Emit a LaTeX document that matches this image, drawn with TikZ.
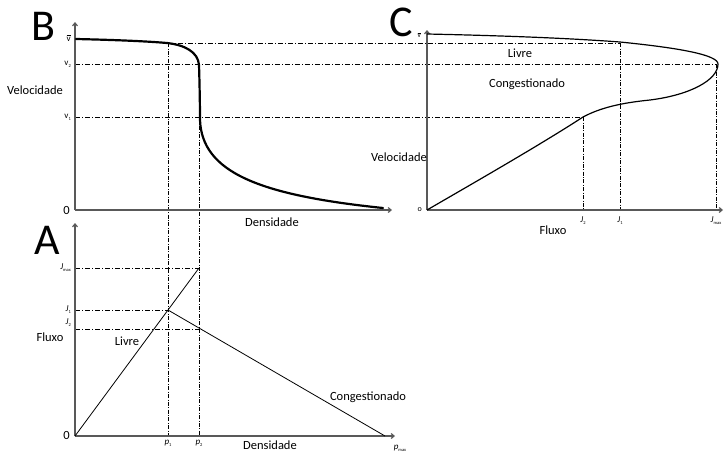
\documentclass[tikz,border=0pt]{standalone}
\usepackage{fontspec}
\setmainfont{Carlito}
\usetikzlibrary{arrows.meta}
\newcommand{\sublab}[2]{\textit{#1}\raisebox{-0.5ex}{\fontsize{4.5}{4.5}\selectfont #2}}
\newcommand{\vsub}[1]{v\raisebox{-0.5ex}{\fontsize{4.5}{4.5}\selectfont #1}}
\newcommand{\vbar}{$\overline{\mbox{v}}$}
\begin{document}
\begin{tikzpicture}[x=1pt,y=-1pt,
  axis/.style={draw=black!65,line width=1.2pt,-{Straight Barb[length=3pt,width=5pt]}},
  guideh/.style={draw=black,line width=0.5pt,dash pattern=on 5pt off 2pt on 1pt off 2pt},
  guidev/.style={draw=black,line width=0.5pt,dash pattern=on 4pt off 1.5pt on 0.8pt off 1.5pt},
  txt/.style={font=\fontsize{12.5}{14}\selectfont,inner sep=0pt},
  tick/.style={font=\fontsize{9}{10}\selectfont,inner sep=0pt},
  big/.style={font=\fontsize{44}{45}\selectfont,inner sep=0pt}]
\useasboundingbox (0,0) rectangle (727,451);

% ---------- coordinates ----------
\coordinate (Bo) at (75,210);
\coordinate (Byt) at (75,22);
\coordinate (Bxt) at (392,210);
\coordinate (Ao) at (75,436);
\coordinate (Ayt) at (75,223);
\coordinate (Axt) at (395,436);
\coordinate (Co) at (427,210);
\coordinate (Cyt) at (427,30);
\coordinate (Cxt) at (723,210);

\coordinate (h1a) at (168,43);  \coordinate (h1b) at (620,43);
\coordinate (h2a) at (75,64);   \coordinate (h2b) at (716,64);
\coordinate (h3a) at (75,117);  \coordinate (h3b) at (583,117);
\coordinate (p1t) at (168,43);  \coordinate (p1b) at (168,436);
\coordinate (p2t) at (199,64);  \coordinate (p2b) at (199,436);
\coordinate (J2b) at (583,210); \coordinate (J1b) at (620,210); \coordinate (Jmb) at (716,210);

\coordinate (Ajm0) at (75,268); \coordinate (Ajm) at (199,268);
\coordinate (Aj10) at (75,310); \coordinate (Aj1) at (168,310);
\coordinate (Aj20) at (75,329); \coordinate (Aj2) at (199,329);
\coordinate (Apm) at (385,436);

% ---------- guide lines ----------
\draw[guideh] (h1a) -- (h1b);
\draw[guideh] (h2a) -- (h2b);
\draw[guideh] (h3a) -- (h3b);
\draw[guidev] (p1t) -- (p1b);
\draw[guidev] (p2t) -- (p2b);
\draw[guidev] (h3b) -- (J2b);
\draw[guidev] (h1b) -- (J1b);
\draw[guidev] (h2b) -- (Jmb);
\draw[guideh] (Ajm0) -- (Ajm);
\draw[guideh] (Aj10) -- (Aj1);
\draw[guideh] (Aj20) -- (Aj2);

% ---------- axes ----------
\draw[axis] (Bo) -- (Byt);
\draw[axis] (Bo) -- (Bxt);
\draw[axis] (Ao) -- (Ayt);
\draw[axis] (Ao) -- (Axt);
\draw[axis] (Co) -- (Cyt);
\draw[axis] (Co) -- (Cxt);

% ---------- curves ----------
\draw[line width=2.2pt,line cap=round] (76,39) .. controls (120,40) and (150,41.5) .. (167,43)
  .. controls (185,45) and (198,52) .. (199,65)
  .. controls (199.5,80) and (200,105) .. (200,120)
  .. controls (202,172) and (258,195) .. (383,208);
\draw[line width=1.2pt] (427,34) .. controls (520,36) and (580,39) .. (620,42)
  .. controls (680,48) and (718,55) .. (718,64)
  .. controls (718,80) and (690,95) .. (650,100)
  .. controls (620,103) and (600,108) .. (583,117)
  .. controls (540,145) and (470,185) .. (Co);
\draw[line width=0.8pt] (Ao) -- (Ajm);
\draw[line width=0.8pt] (Aj1) -- (Apm);

% ---------- labels B ----------
\node[big] (labB) at (43,26) {B};
\node[tick,anchor=east] (Bvb) at (71,38) {\vbar};
\node[tick,anchor=east] (Bv2) at (71,64) {\vsub{2}};
\node[tick,anchor=east] (Bv1) at (71,117) {\vsub{1}};
\node[txt] (Bvel) at (35,90) {Velocidade};
\node[txt,anchor=east] (B0) at (70,210) {0};
\node[txt] (Bden) at (272,222) {Densidade};

% ---------- labels A ----------
\node[big] (labA) at (47,240) {A};
\node[tick,anchor=east] (Ajml) at (71,268) {\sublab{J}{max}};
\node[tick,anchor=east] (Aj1l) at (71,310) {\sublab{J}{1}};
\node[tick,anchor=east] (Aj2l) at (71,323) {\sublab{J}{2}};
\node[txt] (Aflux) at (50,337) {Fluxo};
\node[txt,anchor=east] (A0) at (70,435) {0};
\node[txt] (Alivre) at (127,341) {Livre};
\node[txt] (Acong) at (368,397) {Congestionado};
\node[tick] (Ap1) at (168,443) {\sublab{p}{1}};
\node[tick] (Ap2) at (199,443) {\sublab{p}{2}};
\node[txt] (Aden) at (270,445) {Densidade};
\node[tick] (Apml) at (400,448) {\sublab{p}{max}};

% ---------- labels C ----------
\node[big] (labC) at (401,22) {C};
\node[tick,anchor=east,font=\fontsize{7}{8}\selectfont] (Cvb) at (421,35) {\vbar};
\node[tick,anchor=east,font=\fontsize{8}{9}\selectfont] (C0) at (422,210) {o};
\node[txt,anchor=east] (Cvel) at (427,157) {Velocidade};
\node[txt] (Clivre) at (520,53) {Livre};
\node[txt] (Ccong) at (527,84) {Congestionado};
\node[txt] (Cflux) at (553,230) {Fluxo};
\node[tick] (CJ2) at (583,221) {\sublab{J}{2}};
\node[tick] (CJ1) at (620,221) {\sublab{J}{1}};
\node[tick] (CJm) at (716,221) {\sublab{J}{max}};
\end{tikzpicture}
\end{document}
